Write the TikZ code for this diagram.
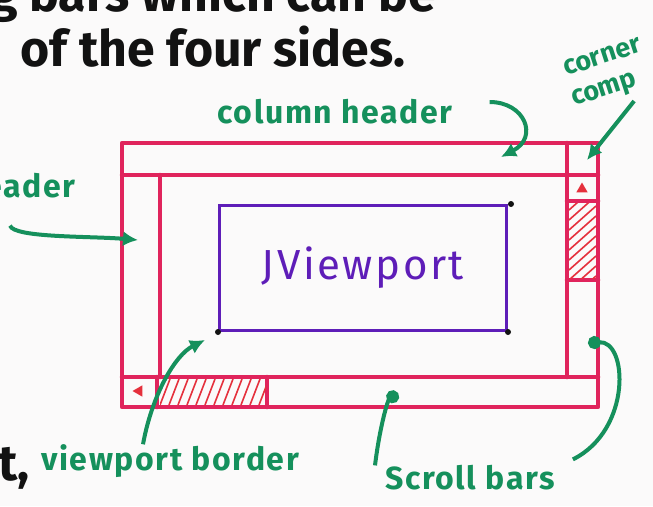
\documentclass[tikz,border=0pt]{standalone}
\usepackage{fontspec}
\setsansfont{Fira Sans}
\usepackage{tikz}
\usetikzlibrary{
  arrows.meta, positioning, shapes.geometric
}
\definecolor{skPaper}{HTML}{FBFAFA}
\definecolor{skPink}{HTML}{E0245C}
\definecolor{skRed}{HTML}{E5303C}
\definecolor{skGreen}{HTML}{15905C}
\definecolor{skPurple}{HTML}{5E1DB8}
\definecolor{skInk}{HTML}{121212}
\tikzset{
  sk-frame/.style={draw=skPink, line width=4.5pt, line cap=round, line join=round},
  sk-hatch/.style={draw=skRed, line width=1.6pt},
  sk-mark/.style={
    regular polygon, regular polygon sides=3, fill=skRed,
    minimum size=13pt, inner sep=0pt
  },
  sk-port/.style={
    rectangle, draw=skPurple, line width=3pt, text=skPurple,
    minimum width=287pt, minimum height=125pt, inner sep=0pt,
    font=\sffamily\fontsize{42}{46}\selectfont\addfontfeatures{LetterSpace=6}
  },
  sk-note/.style={
    text=skGreen, inner sep=0pt,
    font=\sffamily\bfseries\fontsize{32}{34}\selectfont\addfontfeatures{LetterSpace=5}
  },
  sk-note-small/.style={
    sk-note, anchor=base west, rotate=18,
    font=\sffamily\bfseries\fontsize{27}{29}\selectfont
  },
  sk-ink/.style={
    text=skInk, inner sep=0pt,
    font=\sffamily\bfseries\fontsize{50}{52}\selectfont
  },
  sk-flow/.style={-{Latex[length=15pt,width=15pt]}, line width=4pt, draw=skGreen},
  sk-flow-dot/.style={-{Circle[length=13pt]}, line width=4pt, draw=skGreen},
}

\begin{document}
\begin{tikzpicture}[x=1pt, y=-1pt]
  \clip (0,0) rectangle (653,506);
  \fill[skPaper] (0,0) rectangle (653,506);

  % text at the top and bottom edge
  \node[sk-ink, anchor=base west] (line1) at (-10,12) {g bars which can be};
  \node[sk-ink, anchor=base west] (line2) at (20,66) {of the four sides.};
  \node[sk-ink, anchor=base east] (tail) at (30,480) {t,};

  % scroll pane frame
  \draw[sk-frame] (122,143) rectangle (598,407);
  \draw[sk-frame] (122,175) -- (598,175);
  \draw[sk-frame] (160,175) -- (160,377);
  \draw[sk-frame] (567,143) -- (567,377);
  \draw[sk-frame] (122,377) -- (598,377);
  \draw[sk-frame] (567,201) -- (598,201);
  \draw[sk-frame] (567,280) -- (598,280);
  \draw[sk-frame] (157,377) -- (157,407);
  \draw[sk-frame] (267,377) -- (267,407);

  % thumbs
  \begin{scope}
    \clip (160,379) rectangle (266,405);
    \foreach \x in {160,169,...,270}
      \draw[sk-hatch] (\x,405) -- (\x+10,379);
  \end{scope}
  \begin{scope}
    \clip (569,203) rectangle (596,278);
    \foreach \y in {210,220,...,300}
      \draw[sk-hatch] (569,\y) -- (596,\y-24);
  \end{scope}
  \node[sk-mark] (up) at (582,189) {};
  \node[sk-mark, shape border rotate=90] (left) at (139,391) {};

  % viewport
  \node[sk-port] (vp) at (363,268) {JViewport};
  \fill[skInk] ([shift={(3,0)}]vp.north east) circle (3pt);
  \fill[skInk] (vp.south west) circle (3pt);
  \fill[skInk] (vp.south east) circle (3pt);

  % labels
  \node[sk-note] (colhdr) at (335,112) {column header};
  \node[sk-note-small] (cnr) at (566,76) {corner};
  \node[sk-note-small] (comp) at (574,106) {comp};
  \node[sk-note, anchor=east] (rowhdr) at (76,186) {header};
  \node[sk-note] (vpb) at (170,461) {viewport border};
  \node[sk-note] (sbars) at (470,478) {Scroll bars};

  \coordinate (colhdr-tip) at (501,157);
  \coordinate (cnr-tip) at (587,160);
  \coordinate (rowhdr-tip) at (138,240);
  \coordinate (vpb-tip) at (205,340);
  \coordinate (hbar-tip) at (398,393);
  \coordinate (vbar-tip) at (588,343);

  \draw[sk-flow] ([shift={(37,-10)}]colhdr.east) .. controls +(35,0) and +(38,-20) .. (colhdr-tip);
  \draw[sk-flow] ([shift={(-6,10)}]comp.south east) -- (cnr-tip);
  \draw[sk-flow] ([shift={(-66,27)}]rowhdr.south east) .. controls (14,238) and (90,236) .. (rowhdr-tip);
  \draw[sk-flow] ([xshift=-27]vpb.north) .. controls (152,395) and (175,355) .. (vpb-tip);
  \draw[sk-flow-dot] ([xshift=-95]sbars.north) .. controls (380,425) and (388,400) .. (hbar-tip);
  \draw[sk-flow-dot] ([shift={(18,-6)}]sbars.north east) .. controls (632,430) and (628,340) .. (vbar-tip);
\end{tikzpicture}
\end{document}
